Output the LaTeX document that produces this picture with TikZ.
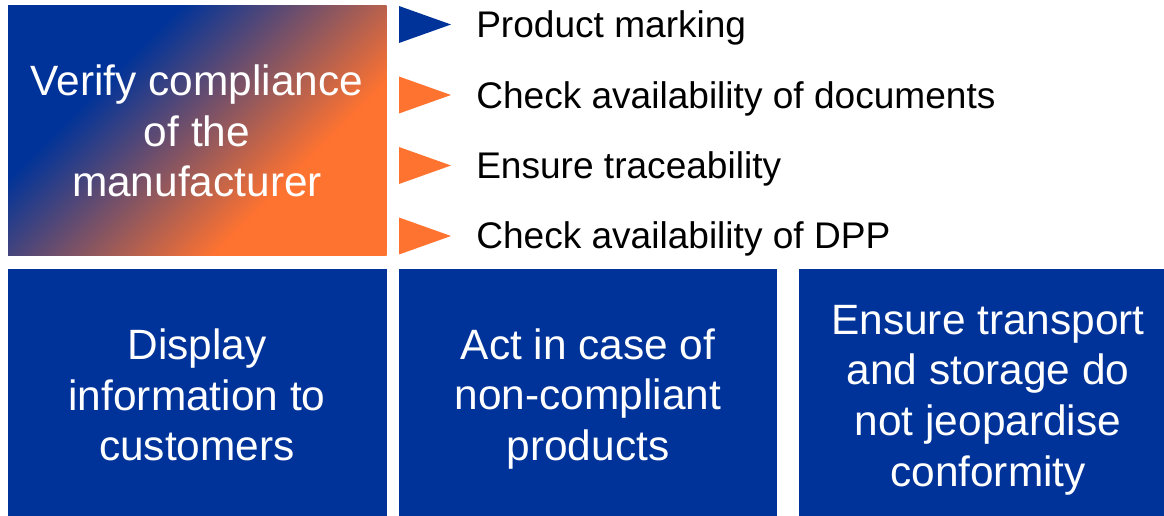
\documentclass[tikz,border=0pt]{standalone}
\usepackage{fontspec}
\setmainfont{Liberation Sans}
\definecolor{cblue}{HTML}{003399}
\definecolor{corange}{HTML}{FF7330}
\pgfdeclarehorizontalshading{vcgrad}{100bp}{color(0bp)=(cblue); color(34bp)=(cblue); color(66bp)=(corange); color(100bp)=(corange)}
\begin{document}
\begin{tikzpicture}[x=0.75pt,y=-0.75pt,
  boxtext/.style={text=white,align=center,font=\fontsize{31.8pt}{38pt}\selectfont,inner sep=0pt},
  listtext/.style={anchor=base west,text=black,font=\fontsize{27.8pt}{33pt}\selectfont,inner sep=0pt}]
\useasboundingbox (0,0) rectangle (1164,516);
% top gradient box
\shade[shading=vcgrad,shading angle=-45] (8,6) rectangle (386.5,256);
\node[boxtext] (verify) at (197,131) {Verify compliance\\of the\\manufacturer};
% triangles and list
\foreach \i/\c/\t in {0/cblue/{Product marking},1/corange/{Check availability of documents},2/corange/{Ensure traceability},3/corange/{Check availability of DPP}}{
  \fill[\c] (399,{6+70.5*\i}) -- (451,{24.5+70.5*\i}) -- (399,{43+70.5*\i}) -- cycle;
  \node[listtext] (item\i) at (476,{38+70.3*\i}) {\t};
}
% bottom boxes
\fill[cblue] (8,269.5) rectangle (386.5,516);
\fill[cblue] (399,269.5) rectangle (777,516);
\fill[cblue] (799,269.5) rectangle (1164,516);
\node[boxtext] (display) at (197,395) {Display\\information to\\customers};
\node[boxtext] (act) at (588,399) {Act in case of\\non-compliant\\products};
\node[boxtext] (ensure) at (988,400) {Ensure transport\\and storage do\\not jeopardise\\conformity};
\end{tikzpicture}
\end{document}
